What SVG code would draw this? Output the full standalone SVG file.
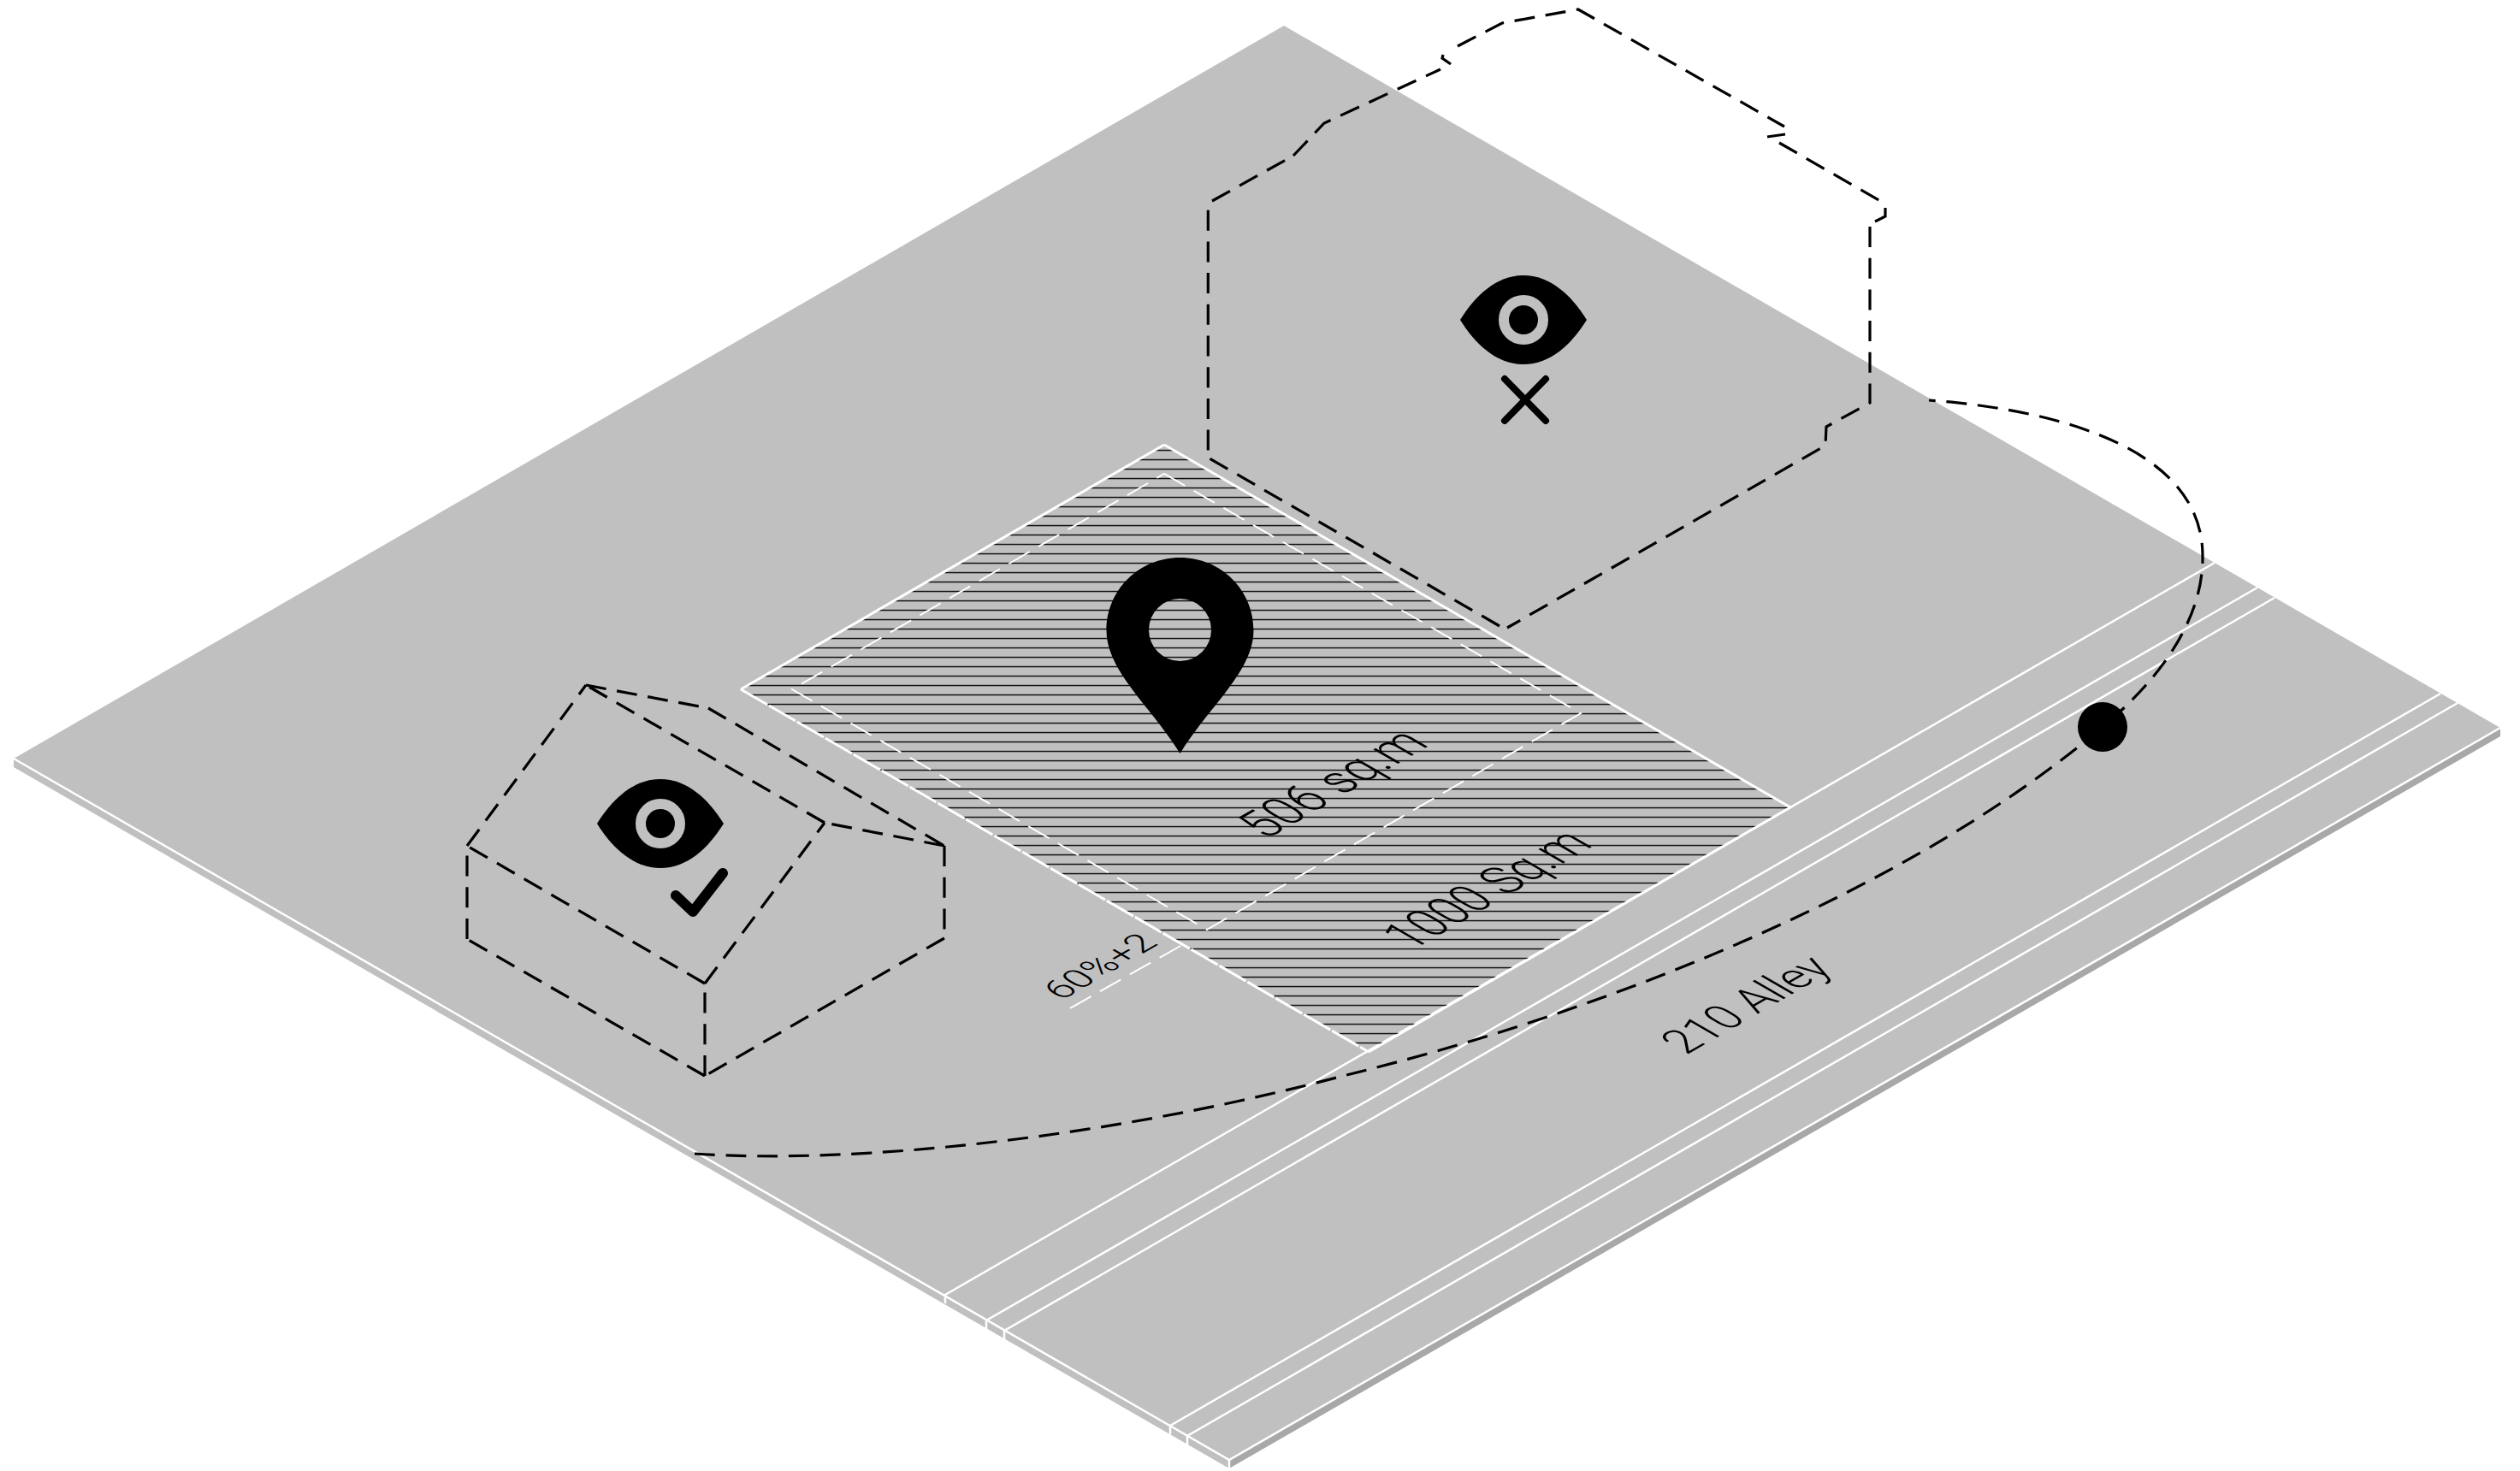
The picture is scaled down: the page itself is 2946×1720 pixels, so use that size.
<svg xmlns="http://www.w3.org/2000/svg" width="2946" height="1720" viewBox="0 0 2946 1720">
<style>
.d{fill:none;stroke:#000;stroke-width:3.200;stroke-dasharray:24 12.700}
.s{stroke-dasharray:none}
.w{fill:none;stroke:#fff;stroke-width:2.500}
.t{font-family:"Roboto","Liberation Sans",sans-serif;font-weight:300;fill:#000}
</style>
<defs>
<pattern id="h" patternUnits="userSpaceOnUse" x="0" y="4" width="40" height="11"><rect y="4.800" width="40" height="1.500" fill="#111"/></pattern>
<path id="eye" d="M-74,0C-56,-29 -31,-52 0,-52C31,-52 56,-29 74,0C56,29 31,52 0,52C-31,52 -56,29 -74,0Z"/>
</defs>
<g id="slab">
<polygon points="16,887 16,897 1437,1717 1437,1707" fill="#c0c0c0"/>
<polygon points="1437,1707 1437,1717 2923,861 2923,851" fill="#a8a8a8"/>
<polygon points="1501,30 2923,851 1437,1707 16,887" fill="#c0c0c0"/>
<path class="w" d="M16,887L1437,1707L2923,851"/>
<path class="w" d="M2589,658L1105,1514V1524M2639,687L1153,1544V1554M2659,699L1174,1556V1566M2853,811L1368,1667V1677M2873,822L1388,1679V1689M1437,1707V1717"/>
</g>
<g id="plot">
<polygon points="1361,520 2093,944 1600,1230 866,806" fill="url(#h)"/>
<path class="w" style="stroke-width:3" d="M1361,520L2093,944L1600,1230"/>
<path class="w" style="stroke-width:3" d="M1361,520L866,806"/>
<path class="w" style="stroke-width:3;stroke-dasharray:36 2" d="M866,806L1600,1230"/>
<polygon class="w" style="stroke-width:2;stroke-dasharray:28 12" points="1361,554 1848,834 1411,1087 926,806"/>
<path class="w" style="stroke-width:2;stroke-dasharray:28 12" d="M1380,1106L1242,1184"/>
</g>
<g id="pin"><path fill-rule="evenodd" d="M1379.500,881C1345,825 1293.500,785 1293.500,737C1293.500,690 1331.500,652 1379.500,652C1427.500,652 1465.500,690 1465.500,737C1465.500,785 1414,825 1379.500,881ZM1379.500,700A36.500,36.500 0 1 0 1379.500,773A36.500,36.500 0 1 0 1379.500,700Z"/></g>
<g id="house">
<path class="d" d="M546,989L685,801M546,1098V989M824,1150L546,989M824,1258L546,1098M824,1258V1150M824,1150L964,962M964,962L685,801M685,801L828,828M828,828L1104,989M1104,989L964,962M1104,989V1097M1104,1097L824,1258"/>
<use href="#eye" x="772" y="963"/>
<circle cx="772" cy="963" r="23" fill="none" stroke="#c0c0c0" stroke-width="12"/>
<path d="M790,1047L810,1066L845,1021" fill="none" stroke="#000" stroke-width="12" stroke-linecap="round" stroke-linejoin="round"/>
</g>
<g id="hex">
<path class="d" d="M1412.300,245.700V536"/>
<path class="d" d="M1417,235L1512,182"/>
<path class="d" d="M1512,182L1548,144L1684,81"/>
<path class="d s" d="M1696,75L1686,68L1687,64"/>
<path class="d" d="M1704,54L1756,27L1845,11L2086,148"/>
<path class="d s" d="M2066,160L2087,157"/>
<path class="d" d="M2080,167L2198,235"/>
<path class="d s" d="M2204,243V253L2192,259"/>
<path class="d" d="M2186,265V471L2135,499L2134,521L1762,734"/>
<path class="d" d="M1753,732L1414,536"/>
<use href="#eye" x="1781" y="374"/>
<circle cx="1781" cy="374" r="23" fill="none" stroke="#c0c0c0" stroke-width="12"/>
<path d="M1759,443L1807,492M1807,443L1759,492" fill="none" stroke="#000" stroke-width="8" stroke-linecap="round"/>
</g>
<g id="connectors">
<path class="d" d="M812,1349C1000,1362 1300,1330 1570,1258C1870,1185 2228,1045 2458,850C2530,790 2576,720 2575,650C2575,530 2420,480 2255,468"/>
<circle id="dot" cx="2458" cy="850" r="29"/>
</g>
<g id="labels">
<text class="t" font-size="63" textLength="222" lengthAdjust="spacingAndGlyphs" transform="matrix(.866 -.5 .866 .5 1480 982)">506 sq.m</text>
<text class="t" font-size="63" textLength="247" lengthAdjust="spacingAndGlyphs" transform="matrix(.866 -.5 .866 .5 1650 1112)">1000 Sq.m</text>
<text class="t" font-size="42" textLength="132" lengthAdjust="spacingAndGlyphs" transform="matrix(.866 -.5 .866 .5 1241 1170)">60%+2</text>
<text class="t" font-size="56" textLength="200" lengthAdjust="spacingAndGlyphs" transform="matrix(.866 -.5 .866 .5 1971 1234)">210 Alley</text>
</g>
</svg>
